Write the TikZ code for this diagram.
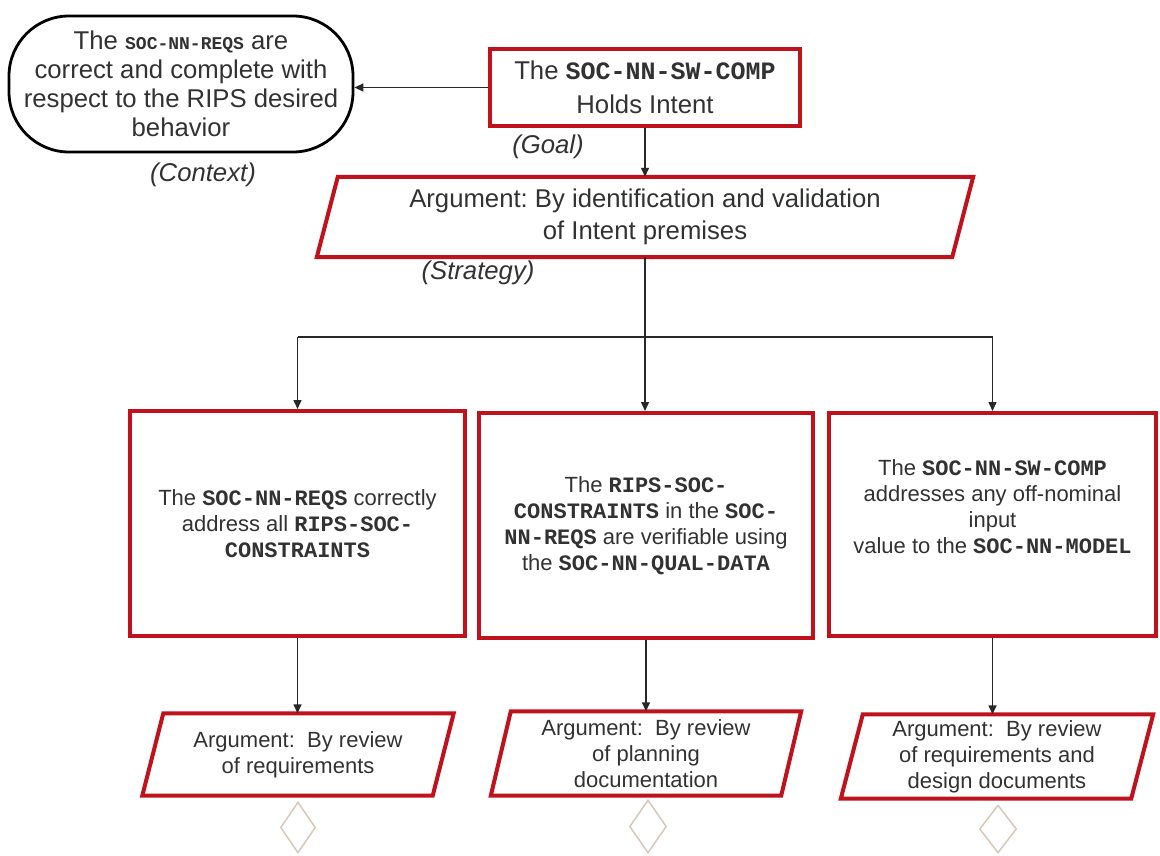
\documentclass[tikz,border=0pt]{standalone}
\usepackage{fontspec}
\setmainfont{Liberation Sans}
\newfontfamily\codefont{Liberation Mono}
\usetikzlibrary{arrows.meta,shapes.geometric,calc}
\frenchspacing

\definecolor{gsnred}{RGB}{192,18,28}
\definecolor{txtgray}{RGB}{50,50,50}
\definecolor{linegray}{RGB}{40,40,40}
\definecolor{tan}{RGB}{214,200,186}

% identifiers of artefacts, set in bold typewriter
\newcommand{\cterm}[1]{{\codefont\bfseries #1}}

\tikzset{
  redbox/.style={draw=gsnred, line width=4pt, fill=white, inner sep=0pt,
    align=center, text=txtgray},
  argbody/.style={inner sep=0pt, align=center, text=txtgray},
  redline/.style={draw=gsnred, line width=4pt, line join=miter},
  ctxbox/.style={draw=black, line width=2.8pt, rounded corners=60pt,
    inner sep=0pt, align=center, text=txtgray},
  conn/.style={draw=linegray, line width=1.4pt},
  arr/.style={conn, -{Triangle[length=9pt,width=8pt]}},
  tag/.style={font=\fontsize{25.7}{31}\selectfont\itshape, text=txtgray},
  solution/.style={shape=diamond, draw=tan, line width=1.5pt, inner sep=0pt},
  boxfont/.style={font=\fontsize{22}{26}\selectfont},
}

\begin{document}
\begin{tikzpicture}[x=1pt,y=-1pt]
\useasboundingbox (0,0) rectangle (1160,855);
\fill[white] (0,0) rectangle (1160,855);

% context
\node[ctxbox, minimum width=344, minimum height=136,
      font=\fontsize{25.7}{29}\selectfont] (ctx) at (181,84)
  {The {\fontsize{18}{29}\selectfont\cterm{SOC-NN-REQS}} are\\
   correct and complete with\\
   respect to the RIPS desired\\
   behavior};
\node[tag] (ctxtag) at (203,175) {(Context)};

% goal
\node[redbox, minimum width=310, minimum height=77,
      font=\fontsize{25.7}{34}\selectfont] (goal) at (645,87.5)
  {The {\fontsize{25}{34}\selectfont\cterm{SOC-NN-SW-COMP}}\\ Holds Intent};
\node[tag] (goaltag) at (548,147) {(Goal)};

% strategy
\node[argbody, minimum width=635, minimum height=80,
      font=\fontsize{25.7}{32}\selectfont] (strat) at (645,217)
  {Argument: By identification and validation\\ of Intent premises};
\draw[redline] ([xshift=10.5pt]strat.north west) -- ([xshift=10.5pt]strat.north east)
  -- ([xshift=-10.5pt]strat.south east) -- ([xshift=-10.5pt]strat.south west) -- cycle;
\node[tag] (strattag) at (478,273) {(Strategy)};

% sub-goals
\node[redbox, boxfont, minimum width=335, minimum height=225] (g1) at (297.5,523.5)
  {The \cterm{SOC-NN-REQS} correctly\\
   address all \cterm{RIPS-SOC-}\\
   \cterm{CONSTRAINTS}};
\node[redbox, boxfont, minimum width=334, minimum height=225] (g2) at (646,525.5)
  {The \cterm{RIPS-SOC-}\\
   \cterm{CONSTRAINTS} in the \cterm{SOC-}\\
   \cterm{NN-REQS} are verifiable using\\
   the \cterm{SOC-NN-QUAL-DATA}};
\node[redbox, minimum width=327, minimum height=223] (g3) at (992.5,524.5) {};
\node[argbody, boxfont] (g3text) at (992.5,507)
  {The \cterm{SOC-NN-SW-COMP}\\
   addresses any off-nominal\\
   input\\
   value to the \cterm{SOC-NN-MODEL}};

% sub-strategies
\node[argbody, boxfont, minimum width=290, minimum height=82] (s1) at (298,754.5)
  {Argument:\ \ By review\\ of requirements};
\node[argbody, boxfont, minimum width=290, minimum height=84] (s2) at (646,753.5)
  {Argument:\ \ By review\\ of planning\\ documentation};
\node[argbody, boxfont, minimum width=290, minimum height=84] (s3) at (997,756.5)
  {Argument:\ \ By review\\ of requirements and\\ design documents};
\foreach \n/\s in {s1/10.5, s2/10, s3/11}{
  \draw[redline] ([xshift=\s pt]\n.north west) -- ([xshift=\s pt]\n.north east)
    -- ([xshift=-\s pt]\n.south east) -- ([xshift=-\s pt]\n.south west) -- cycle;
}

% undeveloped solutions
\node[solution, minimum width=35, minimum height=51] (d1) at (298,827.5) {};
\node[solution, minimum width=37, minimum height=53] (d2) at (648,826.5) {};
\node[solution, minimum width=37, minimum height=48] (d3) at (998,829) {};

% connectors
\draw[arr] (goal.west) -- (goal.west -| ctx.east);
\draw[arr] (goal.south) -- (goal.south |- strat.north);
\coordinate (bus) at (645,337);
\draw[arr] (strat.south) -- (strat.south |- g2.north);
\draw[conn] (bus -| g1.north) -- (bus -| g3.north);
\draw[arr] (bus -| g1.north) -- (g1.north);
\draw[arr] (bus -| g3.north) -- (g3.north);
\draw[arr] (g1.south) -- (g1.south |- s1.north);
\draw[arr] (g2.south) -- (g2.south |- s2.north);
\draw[arr] (g3.south) -- (g3.south |- s3.north);
\end{tikzpicture}
\end{document}
